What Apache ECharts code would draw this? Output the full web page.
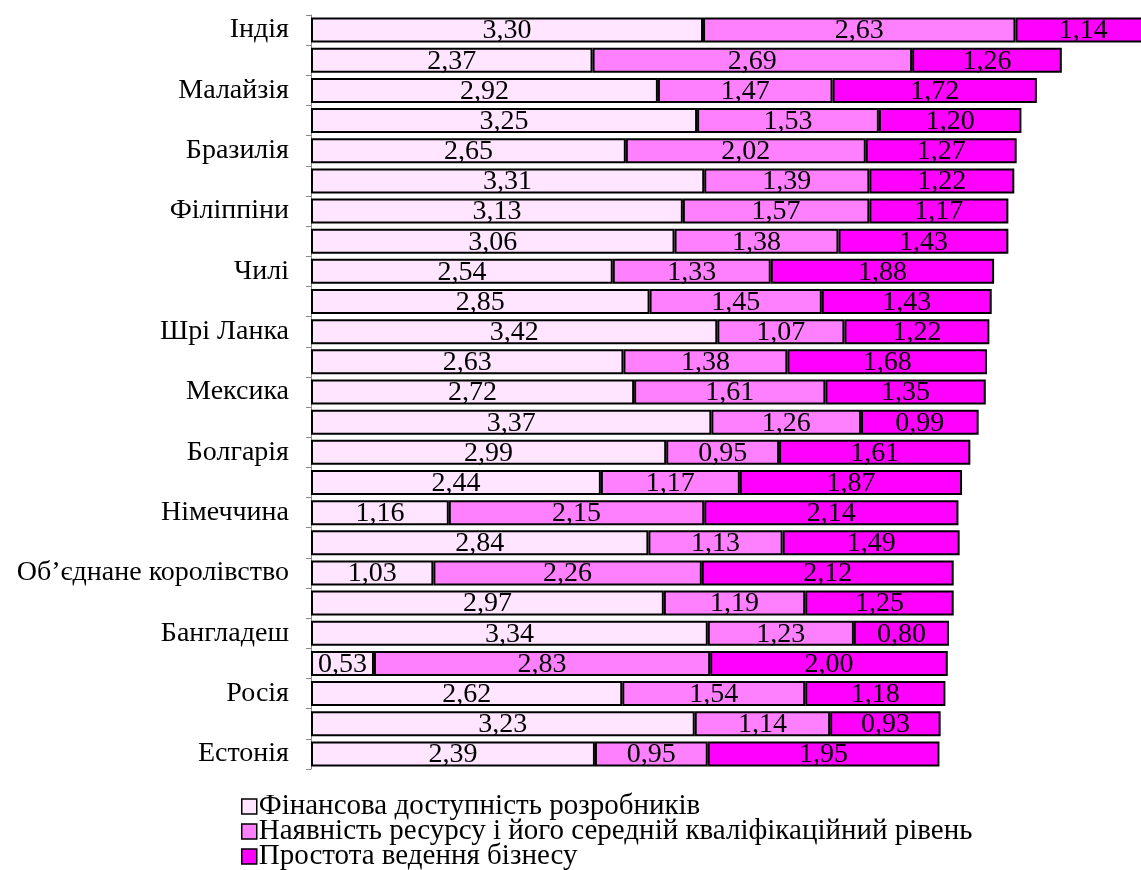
<!DOCTYPE html>
<html>
<head>
<meta charset="utf-8">
<script src="https://cdn.jsdelivr.net/npm/echarts@6/dist/echarts.min.js"></script>
<style>
html,body{margin:0;padding:0;background:#fff;}
#chart{width:1141px;height:870px;}
</style>
</head>
<body>
<div id="chart"></div>
<script>
var categories = ['Індія','','Малайзія','','Бразилія','','Філіппіни','','Чилі','','Шрі Ланка','','Мексика','','Болгарія','','Німеччина','','Об’єднане королівство','','Бангладеш','','Росія','','Естонія'];
var seriesNames = ['Фінансова доступність розробників','Наявність ресурсу і його середній кваліфікаційний рівень','Простота ведення бізнесу'];
var financial = [3.30,2.37,2.92,3.25,2.65,3.31,3.13,3.06,2.54,2.85,3.42,2.63,2.72,3.37,2.99,2.44,1.16,2.84,1.03,2.97,3.34,0.53,2.62,3.23,2.39];
var resources = [2.63,2.69,1.47,1.53,2.02,1.39,1.57,1.38,1.33,1.45,1.07,1.38,1.61,1.26,0.95,1.17,2.15,1.13,2.26,1.19,1.23,2.83,1.54,1.14,0.95];
var business  = [1.14,1.26,1.72,1.20,1.27,1.22,1.17,1.43,1.88,1.43,1.22,1.68,1.35,0.99,1.61,1.87,2.14,1.49,2.12,1.25,0.80,2.00,1.18,0.93,1.95];
var colors = ['#FFE5FF','#FF80FF','#FF00FF'];
var FONT = '"Liberation Serif","Times New Roman",serif';

var chart = echarts.init(document.getElementById('chart'));
function mk(name, data, color){
  return {
    name: name, type: 'bar', stack: 'total', data: data,
    barWidth: 25, clip: false,
    itemStyle: {color: color, borderColor: '#000', borderWidth: 2},
    label: {show: true, position: 'inside', color: '#000', fontFamily: FONT, fontSize: 28, offset: [0, 1],
      formatter: function(p){ return p.value.toFixed(2).replace('.', ','); }},
    emphasis: {disabled: true},
    animation: false
  };
}
function leg(i){
  return {
    orient: 'vertical', left: 241, top: 792 + i*25, padding: 0,
    itemWidth: 15, itemHeight: 15, itemGap: 0,
    icon: 'rect', selectedMode: false,
    itemStyle: {borderColor: '#000', borderWidth: 1.5},
    textStyle: {fontFamily: FONT, fontSize: 29, color: '#000', lineHeight: 25, padding: [0,0,0,-3]},
    data: [seriesNames[i]]
  };
}
chart.setOption({
  animation: false,
  grid: {left: 311, top: 15, height: 754, width: 8*118.8, outerBoundsMode: 'none', containLabel: false},
  xAxis: {type: 'value', min: 0, max: 8, show: false},
  yAxis: {
    type: 'category', data: categories, inverse: true,
    axisLine: {show: true, lineStyle: {color: '#888', width: 1}},
    axisTick: {show: true, length: 5, lineStyle: {color: '#888'}},
    axisLabel: {interval: 0, margin: 22, color: '#000', fontFamily: FONT, fontSize: 28}
  },
  legend: [leg(0), leg(1), leg(2)],
  series: [mk(seriesNames[0], financial, colors[0]), mk(seriesNames[1], resources, colors[1]), mk(seriesNames[2], business, colors[2])]
});
</script>
</body>
</html>
